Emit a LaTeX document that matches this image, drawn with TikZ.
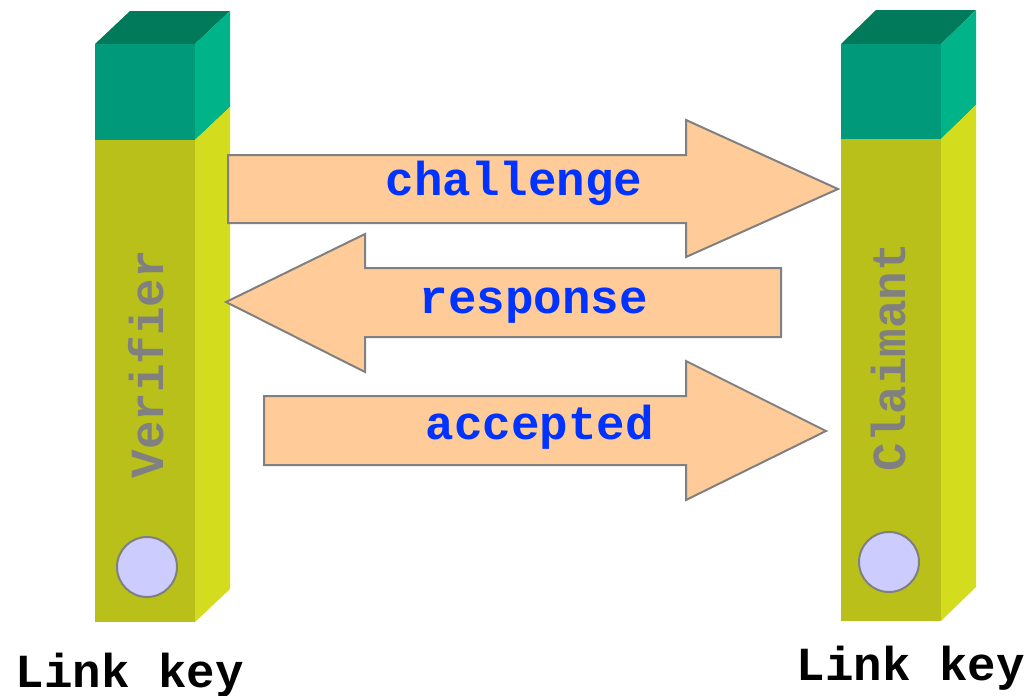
\documentclass[tikz,border=0pt]{standalone}
\usepackage{fontspec}
\setmonofont{Liberation Mono}
\definecolor{topgreen}{RGB}{0,122,90}
\definecolor{frontgreen}{RGB}{0,153,122}
\definecolor{sidegreen}{RGB}{0,179,136}
\definecolor{frontyellow}{RGB}{185,192,26}
\definecolor{sideyellow}{RGB}{212,220,30}
\definecolor{keyfill}{RGB}{204,204,255}
\definecolor{arrowfill}{RGB}{255,204,153}
\definecolor{msgblue}{RGB}{0,51,255}
\definecolor{rolegray}{RGB}{128,128,128}
\tikzset{
  msgarrow/.style={fill=arrowfill, draw=rolegray, line width=2pt, line join=miter},
  msglabel/.style={font=\fontsize{47.5}{52}\selectfont\ttfamily\bfseries, text=msgblue, anchor=base, inner sep=0pt},
  rolelabel/.style={font=\fontsize{47.5}{52}\selectfont\ttfamily\bfseries, text=rolegray, anchor=base, rotate=90, inner sep=0pt},
  keylabel/.style={font=\fontsize{47.5}{52}\selectfont\ttfamily\bfseries, text=black, anchor=base, inner sep=0pt},
  keydisc/.style={circle, fill=keyfill, draw=rolegray, line width=2pt, minimum size=60pt, inner sep=0pt},
}
% a pillar: #1,#2 = left/right x of front face, #3 = depth dx, #4 = depth dy,
% #5 = top y, #6 = green/yellow boundary y, #7 = bottom y
\newcommand{\pillar}[7]{%
  \fill[topgreen] (#1,#5) -- (#1+#3,#5-#4) -- (#2+#3,#5-#4) -- (#2,#5) -- cycle;
  \fill[frontgreen] (#1,#5) rectangle (#2,#6);
  \fill[frontyellow] (#1,#6) rectangle (#2,#7);
  \fill[sidegreen] (#2,#5) -- (#2+#3,#5-#4) -- (#2+#3,#6-#4) -- (#2,#6) -- cycle;
  \fill[sideyellow] (#2,#6) -- (#2+#3,#6-#4) -- (#2+#3,#7-#4) -- (#2,#7) -- cycle;
}
\begin{document}
\begin{tikzpicture}[x=1pt, y=-1pt]
\useasboundingbox (0,0) rectangle (1029,696);

% the two parties
\pillar{95}{195}{35}{33}{44}{140}{622}
\pillar{841}{941}{35}{34}{44}{139}{621}

\node[keydisc] (vkey) at (147,567) {};
\node[keydisc] (ckey) at (889,562) {};

\node[rolelabel] (verifier) at (163,364) {Verifier};
\node[rolelabel] (claimant) at (905,357) {Claimant};

% message arrows
\draw[msgarrow] (228,155) -- (686,155) -- (686,120) -- (838,189) -- (686,257) -- (686,223) -- (228,223) -- cycle;
\draw[msgarrow] (226,302) -- (365,234) -- (365,268) -- (781,268) -- (781,337) -- (365,337) -- (365,372) -- cycle;
\draw[msgarrow] (264,396) -- (686,396) -- (686,361) -- (826,431) -- (686,500) -- (686,465) -- (264,465) -- cycle;

\node[msglabel] (challenge) at (514,195) {challenge};
\node[msglabel] (response) at (534,313) {response};
\node[msglabel] (accepted) at (540,439) {accepted};

\node[keylabel] (vlink) at (130,687) {Link key};
\node[keylabel] (clink) at (911,680) {Link key};
\end{tikzpicture}
\end{document}
